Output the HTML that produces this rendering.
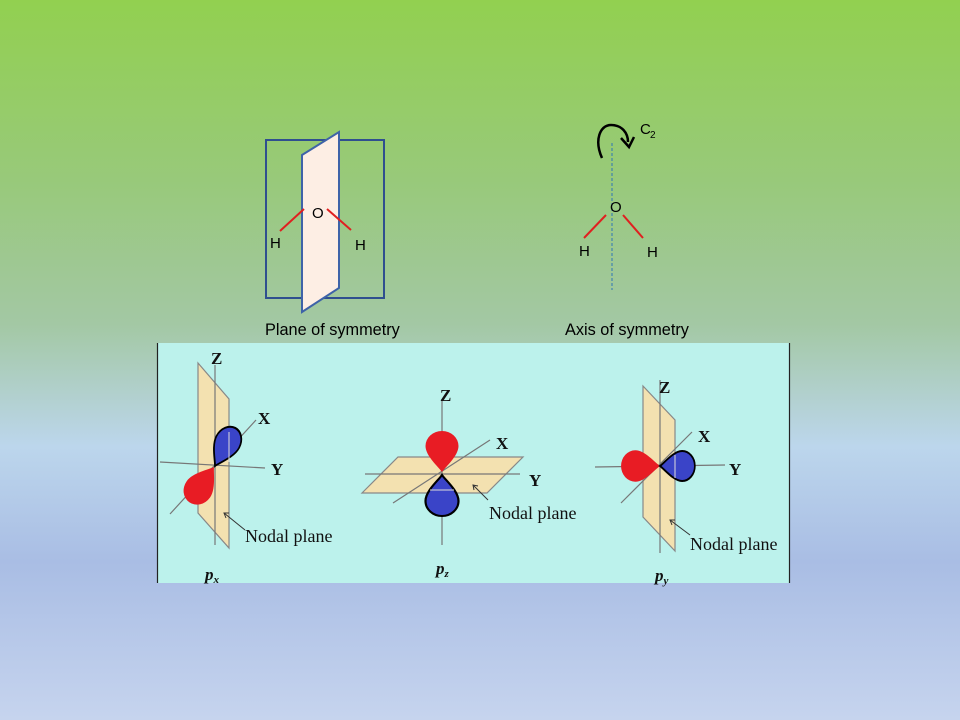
<!DOCTYPE html>
<html><head><meta charset="utf-8"><style>
html,body{margin:0;padding:0;width:960px;height:720px;overflow:hidden}
body{background:linear-gradient(180deg,#92d050 0%,#98c97a 25%,#a3c8a4 45%,#bcd6ec 62%,#a9bde4 78%,#c6d4ee 100%)}
svg{position:absolute;left:0;top:0}
.s{font-family:"Liberation Sans",sans-serif;font-size:15px;fill:#000}
.l{font-family:"Liberation Sans",sans-serif;font-size:16.3px;fill:#000}
.t{font-family:"Liberation Serif",serif;font-weight:bold;font-size:17px;fill:#111}
.n{font-family:"Liberation Serif",serif;font-size:18px;fill:#111}
</style></head><body>
<svg width="960" height="720" viewBox="0 0 960 720">
<defs>
<path id="lobe" d="M0,0 C-3,-5 -15,-16 -15,-26 A15,15 0 1 1 15,-26 C15,-16 3,-5 0,0 Z"/>
</defs>
<!-- plane of symmetry -->
<rect x="266" y="140" width="118" height="158" fill="none" stroke="#2f4f8f" stroke-width="2"/>
<polygon points="302,155 339,132 339,288 302,312" fill="#fdeee4" stroke="#3e63a8" stroke-width="2"/>
<line x1="280" y1="231" x2="304" y2="209" stroke="#e02020" stroke-width="2"/>
<line x1="327" y1="209" x2="351" y2="230" stroke="#e02020" stroke-width="2"/>
<text class="s" x="312" y="218">O</text>
<text class="s" x="270" y="248">H</text>
<text class="s" x="355" y="250">H</text>
<text class="l" x="265" y="335">Plane of symmetry</text>
<!-- axis -->
<line x1="612" y1="143" x2="612" y2="290" stroke="#2e75b6" stroke-width="1" stroke-dasharray="3,2"/>
<path d="M602,158 C594,140 600,125 611,125 C622,125 628,133 628,142" fill="none" stroke="#000" stroke-width="2.5"/>
<polyline points="621,138 629,147 634,137" fill="none" stroke="#000" stroke-width="2.5"/>
<text class="s" x="640" y="134">C</text><text class="s" x="650" y="138" style="font-size:10px">2</text>
<line x1="584" y1="238" x2="606" y2="215" stroke="#e02020" stroke-width="2"/>
<line x1="623" y1="215" x2="643" y2="238" stroke="#e02020" stroke-width="2"/>
<text class="s" x="610" y="212">O</text>
<text class="s" x="579" y="256">H</text>
<text class="s" x="647" y="257">H</text>
<text class="l" x="565" y="335">Axis of symmetry</text>
<!-- panel -->
<rect x="157" y="343" width="632" height="240" fill="#bcf2ec"/>
<line x1="157.5" y1="343" x2="157.5" y2="583" stroke="#222" stroke-width="1.2"/>
<line x1="789.5" y1="343" x2="789.5" y2="583" stroke="#222" stroke-width="1.2"/>
<g stroke="#777" stroke-width="1.2">
<polygon points="198,363 229,399 229,548 198,513" fill="#f3e1b0" stroke="#888"/>
<line x1="215" y1="365" x2="215" y2="545"/>
<line x1="160" y1="462" x2="265" y2="468"/>
<line x1="170" y1="514" x2="256" y2="420"/>
<polygon points="362,493 398,457 523,457 487,493" fill="#f3e1b0" stroke="#888"/>
<line x1="442" y1="400" x2="442" y2="545"/>
<line x1="365" y1="474" x2="520" y2="474"/>
<line x1="393" y1="503" x2="490" y2="440"/>
<polygon points="643,386 675,420 675,551 643,517" fill="#f3e1b0" stroke="#888"/>
<line x1="660" y1="380" x2="660" y2="553"/>
<line x1="595" y1="467" x2="725" y2="465"/>
<line x1="621" y1="503" x2="692" y2="432"/>
</g>
<!-- lobes -->
<use href="#lobe" transform="translate(215,466) rotate(28) scale(0.85,1.05)" fill="#3a44c8" stroke="#000" stroke-width="2"/>
<use href="#lobe" transform="translate(214,467) rotate(-145) scale(0.95,1.05)" fill="#e81c24"/>
<use href="#lobe" transform="translate(442,472) scale(1.1,1.0)" fill="#e81c24"/>
<use href="#lobe" transform="translate(442,475) rotate(180) scale(1.1,1.0)" fill="#3a44c8" stroke="#000" stroke-width="2"/>
<use href="#lobe" transform="translate(660,466) rotate(-90) scale(1.05,0.95)" fill="#e81c24"/>
<use href="#lobe" transform="translate(660,466) rotate(90) scale(1,0.85)" fill="#3a44c8" stroke="#000" stroke-width="2"/>
<g stroke="#ddd" stroke-width="1"><line x1="229" y1="432" x2="229" y2="462"/><line x1="675" y1="455" x2="675" y2="478"/><line x1="430" y1="490" x2="454" y2="490"/></g>
<!-- labels -->
<text class="t" x="211" y="364">Z</text><text class="t" x="258" y="424">X</text><text class="t" x="271" y="475">Y</text>
<text class="t" x="440" y="401">Z</text><text class="t" x="496" y="449">X</text><text class="t" x="529" y="486">Y</text>
<text class="t" x="659" y="393">Z</text><text class="t" x="698" y="442">X</text><text class="t" x="729" y="475">Y</text>
<text class="n" x="245" y="542">Nodal plane</text>
<text class="n" x="489" y="519">Nodal plane</text>
<text class="n" x="690" y="550">Nodal plane</text>
<g stroke="#333" stroke-width="1" fill="none">
<line x1="245" y1="530" x2="224" y2="513"/><polyline points="229,513 224,513 226,518"/>
<line x1="488" y1="500" x2="473" y2="485"/><polyline points="478,486 473,485 474,490"/>
<line x1="690" y1="535" x2="670" y2="520"/><polyline points="675,520 670,520 672,525"/>
</g>
<text class="t" x="205" y="580" style="font-style:italic">p<tspan font-size="11" dy="3">x</tspan></text>
<text class="t" x="436" y="574" style="font-style:italic">p<tspan font-size="11" dy="3">z</tspan></text>
<text class="t" x="655" y="581" style="font-style:italic">p<tspan font-size="11" dy="3">y</tspan></text>
</svg>
</body></html>
